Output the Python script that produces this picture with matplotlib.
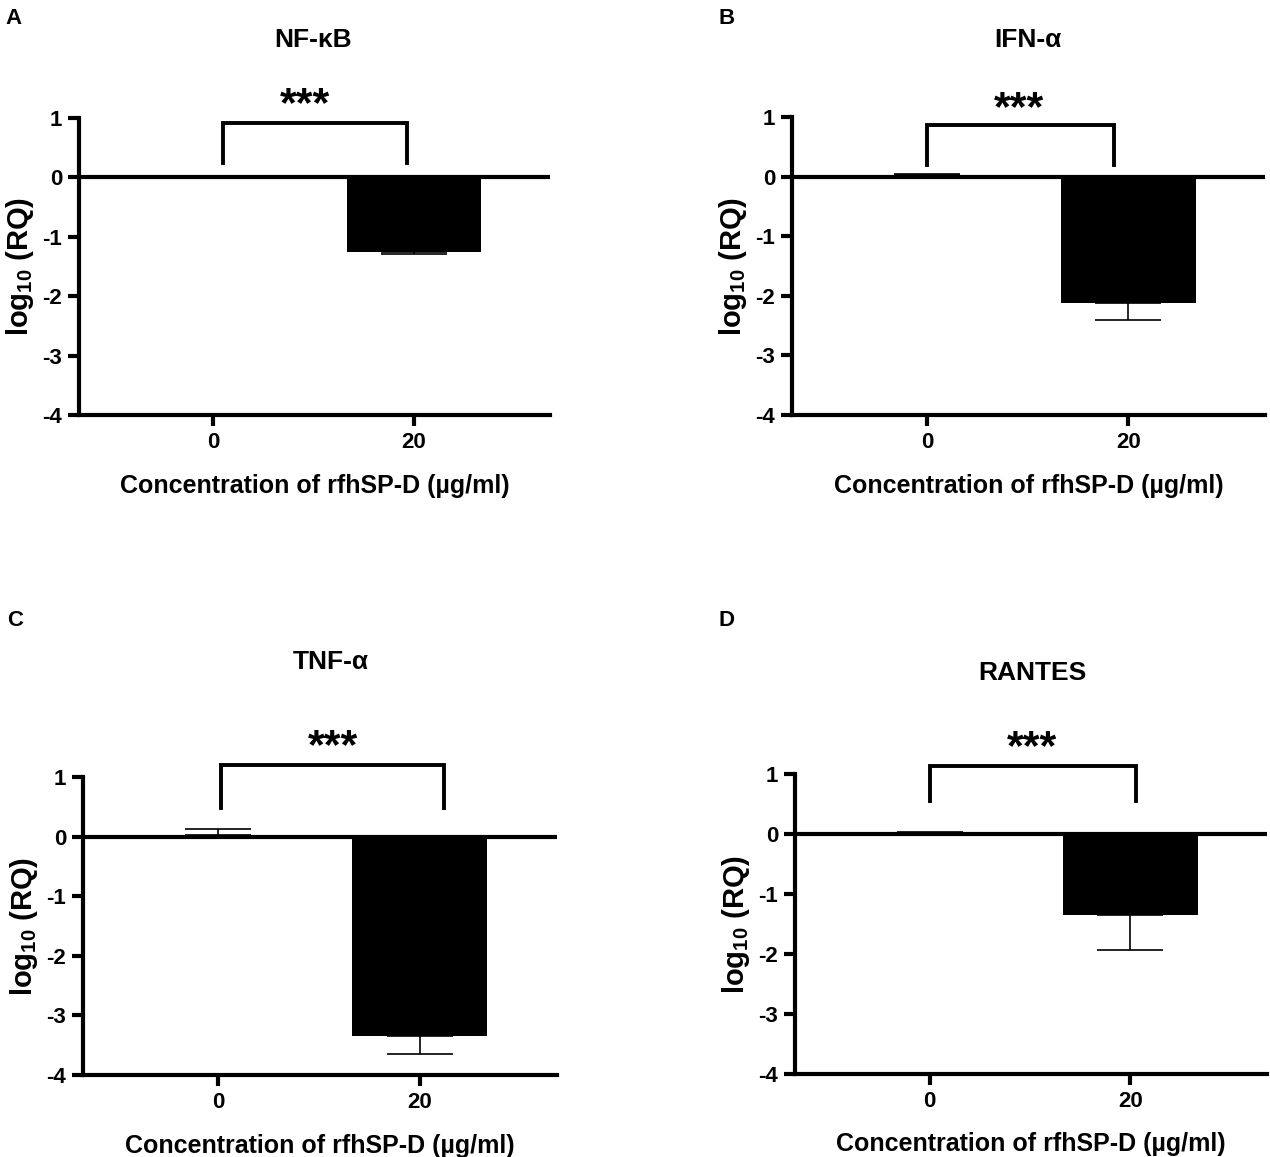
import numpy as np
import matplotlib
matplotlib.use("Agg")
import matplotlib.pyplot as plt

plt.rcParams['font.family'] = ['Liberation Sans', 'DejaVu Sans']
plt.rcParams['font.weight'] = 'bold'
plt.rcParams['axes.unicode_minus'] = False
plt.rcParams['mathtext.fontset'] = 'custom'
plt.rcParams['mathtext.bf'] = 'Liberation Sans:bold'
plt.rcParams['mathtext.rm'] = 'Liberation Sans:bold'
plt.rcParams['mathtext.default'] = 'bf'

# data
panel_letters = ['A', 'B', 'C', 'D']
genes = ['NF-κB', 'IFN-α', 'TNF-α', 'RANTES']
conc_labels = ['0', '20']
nfkb_mean = [0.0, -1.26]
nfkb_err = [0.0, 0.03]
ifna_mean = [0.02, -2.12]
ifna_err = [0.03, 0.28]
tnfa_mean = [0.02, -3.34]
tnfa_err = [0.10, 0.31]
rantes_mean = [0.02, -1.35]
rantes_err = [0.02, 0.58]
signif = ['***', '***', '***', '***']

means = [nfkb_mean, ifna_mean, tnfa_mean, rantes_mean]
errs = [nfkb_err, ifna_err, tnfa_err, rantes_err]

W, H = 1270, 1157
fig = plt.figure(figsize=(W / 100, H / 100), dpi=100)

def px_box(l, r, t, b):
    return [l / W, 1 - b / H, (r - l) / W, (b - t) / H]

# layout (pixels): axes boxes, titles, letters, brackets, stars
boxes = [px_box(79, 550, 118, 415), px_box(792, 1265, 117, 415),
         px_box(83, 557, 777, 1075), px_box(795, 1267, 774, 1074)]
title_xy = [(313, 40), (1028, 40), (331, 662), (1032, 673)]
letter_xy = [(14, 18), (727, 18), (15, 620), (727, 620)]
brackets = [(0.05, 0.965, 0.92, 0.25), (0.0, 0.93, 0.87, 0.19),
            (0.015, 1.12, 1.2, 0.48), (0.0, 1.03, 1.13, 0.55)]
star_xy = [(0.46, 1.22), (0.46, 1.14), (0.57, 1.51), (0.51, 1.43)]

x = np.arange(len(conc_labels))

for i in range(4):
    ax = fig.add_axes(boxes[i])
    m = np.array(means[i])
    e = np.array(errs[i])
    ax.bar(x, m, width=0.67, color='black', zorder=2)
    lower = np.where(m < 0, e, 0)
    upper = np.where(m >= 0, e, 0)
    ax.errorbar(x, m, yerr=[lower, upper], fmt='none', ecolor='black',
                elinewidth=1.2, capsize=23.5, capthick=1.2, zorder=2.5)
    ax.axhline(0, color='black', lw=3, zorder=3)

    ax.set_xlim(-0.67, 1.68)
    ax.set_ylim(-4, 1)
    ax.set_yticks([1, 0, -1, -2, -3, -4])
    ax.set_xticks(x)
    ax.set_xticklabels(conc_labels)
    for s in ['top', 'right']:
        ax.spines[s].set_visible(False)
    for s in ['left', 'bottom']:
        ax.spines[s].set_linewidth(3)
    ax.tick_params(axis='both', length=8, width=3, labelsize=16, pad=4)
    ax.set_xlabel('Concentration of rfhSP-D (µg/ml)', fontsize=18,
                  fontweight='bold', labelpad=15)
    ax.set_ylabel('log$_{10}$ (RQ)', fontsize=21, fontweight='bold', labelpad=5)

    x0, x1, top, bot = brackets[i]
    ax.plot([x0, x0, x1, x1], [bot, top, top, bot], color='black', lw=2.8,
            clip_on=False, solid_joinstyle='miter')
    ax.text(star_xy[i][0], star_xy[i][1], signif[i], ha='center', va='center',
            fontsize=31, fontweight='bold', clip_on=False)

    fig.text(title_xy[i][0] / W, 1 - title_xy[i][1] / H, genes[i],
             ha='center', va='center', fontsize=19, fontweight='bold')
    fig.text(letter_xy[i][0] / W, 1 - letter_xy[i][1] / H, panel_letters[i],
             ha='center', va='center', fontsize=16, fontweight='bold')

fig.savefig('out.png', dpi=100)
